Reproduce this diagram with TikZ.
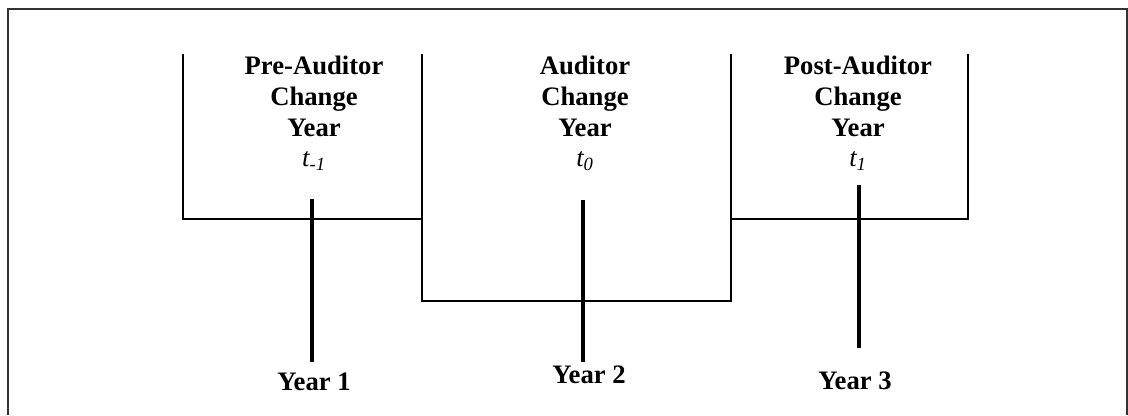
\documentclass[tikz,border=0pt]{standalone}
\usepackage{fontspec}
\setmainfont{Liberation Serif}
\begin{document}
\begin{tikzpicture}[x=0.75pt,y=-0.75pt,
  frameline/.style={line width=1.3pt, draw=black!80},
  boxline/.style={line width=1.1pt, draw=black},
  yearline/.style={line width=3pt, draw=black},
  lbl/.style={anchor=base, inner sep=0pt, font=\fontsize{20}{23}\selectfont\bfseries},
  tlbl/.style={anchor=base, inner sep=0pt, font=\fontsize{20}{23}\selectfont\itshape}]
\useasboundingbox (0,0) rectangle (1128,415);
% outer frame
\coordinate (fbl) at (8,415);
\coordinate (ftl) at (8,9);
\coordinate (ftr) at (1127,9);
\coordinate (fbr) at (1127,415);
\draw[frameline] (fbl) -- (ftl) -- (ftr) -- (fbr);
% period boxes
\coordinate (a1) at (183,54);
\coordinate (a2) at (183,219);
\coordinate (b1) at (422,219);
\coordinate (b0) at (422,54);
\coordinate (b2) at (422,301);
\coordinate (c2) at (731,301);
\coordinate (c0) at (731,54);
\coordinate (c1) at (731,219);
\coordinate (d1) at (968,219);
\coordinate (d0) at (968,54);
\draw[boxline] (a1) -- (a2) -- (b1);
\draw[boxline] (b0) -- (b2) -- (c2) -- (c0);
\draw[boxline] (c1) -- (d1) -- (d0);
% year markers
\coordinate (y1t) at (312,199);
\coordinate (y1b) at (312,362);
\coordinate (y2t) at (583,200);
\coordinate (y2b) at (583,362);
\coordinate (y3t) at (859,185);
\coordinate (y3b) at (859,348);
\draw[yearline] (y1t) -- (y1b);
\draw[yearline] (y2t) -- (y2b);
\draw[yearline] (y3t) -- (y3b);
% labels
\node[lbl] (p1) at (314,74) {Pre-Auditor};
\node[lbl] (p2) at (314,105) {Change};
\node[lbl] (p3) at (314,136) {Year};
\node[tlbl] (p4) at (314,166) {t\textsubscript{-1}};
\node[lbl] (m1) at (585,74) {Auditor};
\node[lbl] (m2) at (585,105) {Change};
\node[lbl] (m3) at (585,136) {Year};
\node[tlbl] (m4) at (585,166) {t\textsubscript{0}};
\node[lbl] (q1) at (858,74) {Post-Auditor};
\node[lbl] (q2) at (858,105) {Change};
\node[lbl] (q3) at (858,136) {Year};
\node[tlbl] (q4) at (858,166) {t\textsubscript{1}};
\node[lbl] (yr1) at (314,390) {Year 1};
\node[lbl] (yr2) at (589,383) {Year 2};
\node[lbl] (yr3) at (855,389) {Year 3};
\end{tikzpicture}
\end{document}
